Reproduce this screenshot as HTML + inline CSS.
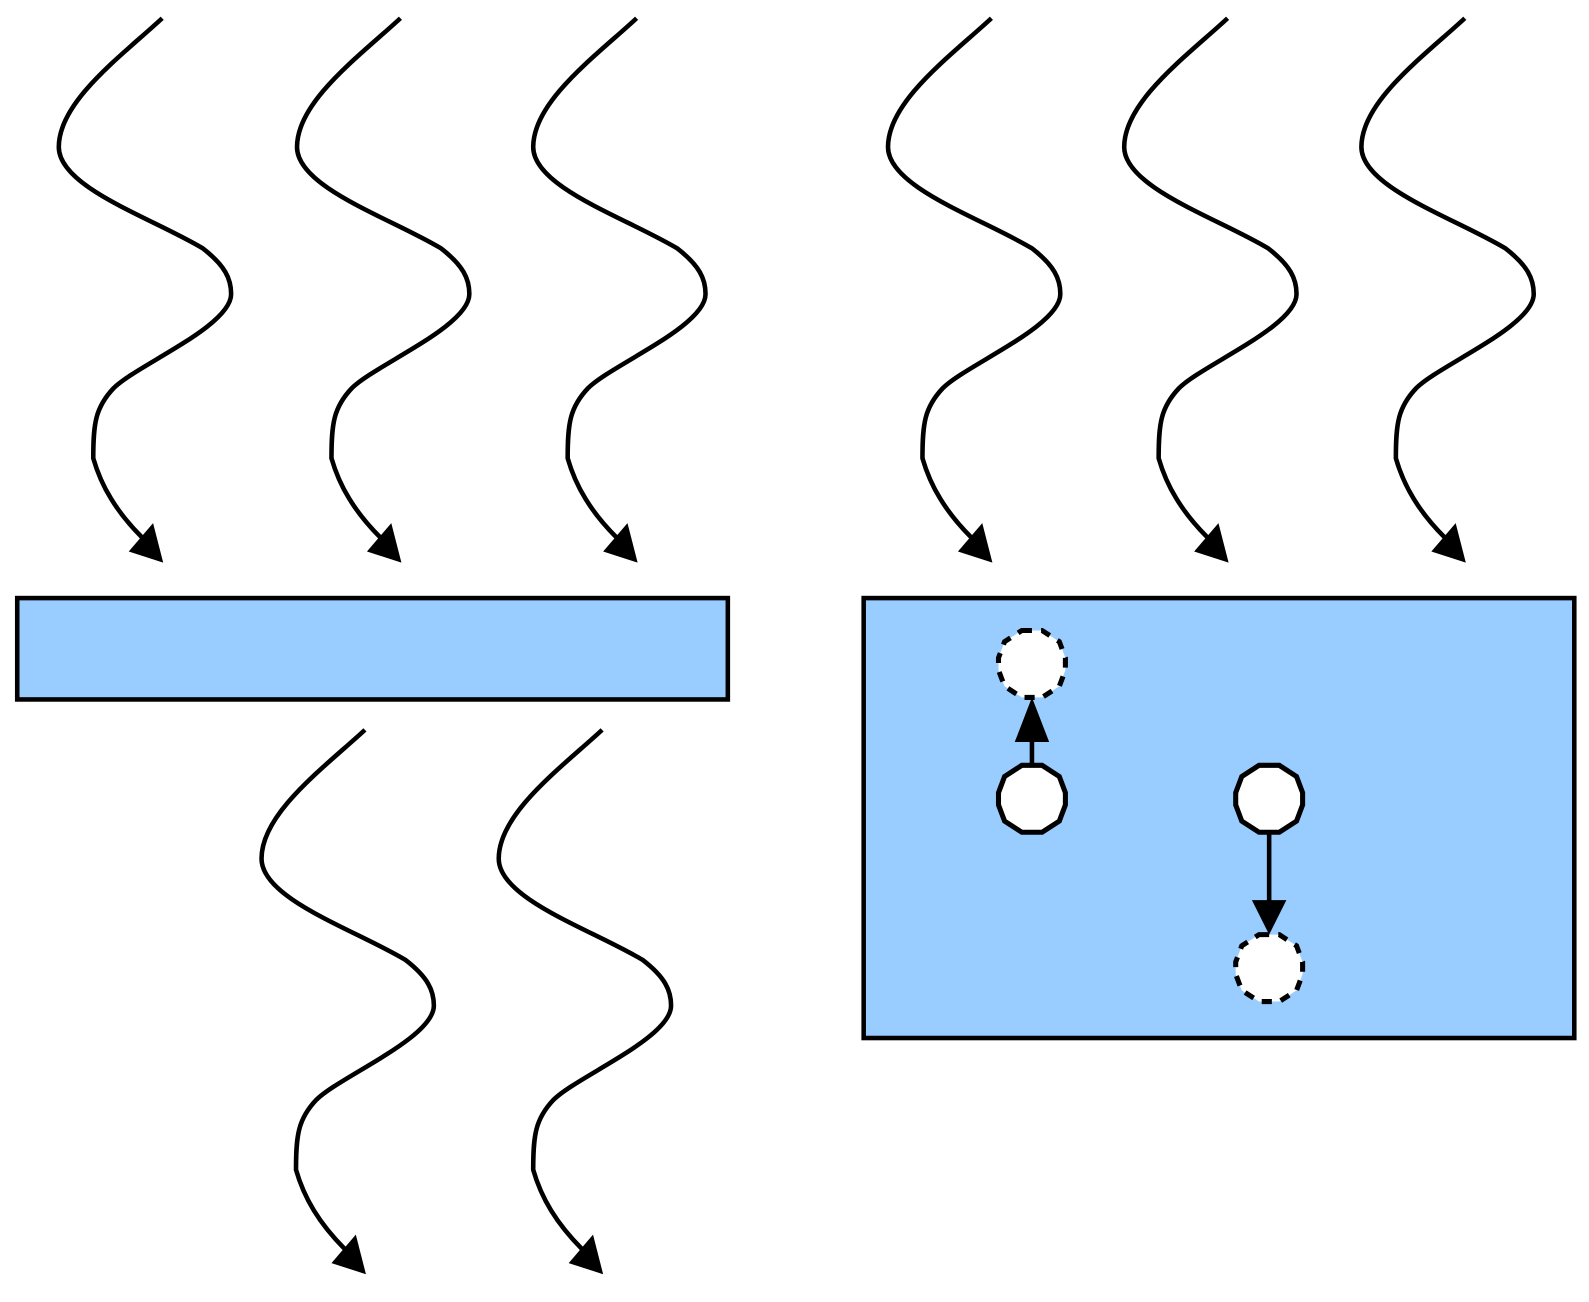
<!DOCTYPE html>
<html><head><style>body{margin:0;background:#fff}svg{display:block}</style></head>
<body>
<svg width="1589" height="1302" viewBox="0 0 1589 1302" xmlns="http://www.w3.org/2000/svg">
<defs>
<g id="w">
<path fill="none" stroke="#000" stroke-width="4.5" stroke-linejoin="round" d="M160,18 C120,55 58,100 58,145 C58,185 150,215 200,245 C222,262 228,275 228,290 C228,322 135,360 112,383 C94,402 92,418 92,452 C100,480 115,505 140,530"/>
<polygon points="161,555 127,544 151,516" fill="#000"/>
</g>
<polygon id="oct" points="-10,-33 10,-33 27,-22 33,-6 33,6 27,22 10,33 -10,33 -27,22 -33,6 -33,-6 -27,-22"/>
</defs>
<g transform="scale(1.0137)">
<use href="#w" x="0" y="0"/>
<use href="#w" x="235" y="0"/>
<use href="#w" x="468" y="0"/>
<use href="#w" x="818" y="0"/>
<use href="#w" x="1051" y="0"/>
<use href="#w" x="1285" y="0"/>
<use href="#w" x="200" y="702"/>
<use href="#w" x="434" y="702"/>
<rect x="17" y="590" width="701" height="100" fill="#99ccff" stroke="#000" stroke-width="4.5"/>
<rect x="852" y="590" width="701" height="434" fill="#99ccff" stroke="#000" stroke-width="4.5"/>
<use href="#oct" x="1018" y="655" fill="#fff" stroke="#000" stroke-width="5" stroke-dasharray="10,9"/>
<use href="#oct" x="1018" y="788" fill="#fff" stroke="#000" stroke-width="5"/>
<use href="#oct" x="1252" y="788" fill="#fff" stroke="#000" stroke-width="5"/>
<use href="#oct" x="1252" y="955" fill="#fff" stroke="#000" stroke-width="5" stroke-dasharray="10,9"/>
<line x1="1018" y1="755" x2="1018" y2="725" stroke="#000" stroke-width="4.5"/>
<polygon points="1018,688 1001,732 1035,732" fill="#000"/>
<line x1="1252" y1="821" x2="1252" y2="895" stroke="#000" stroke-width="4.5"/>
<polygon points="1252,922 1235,888 1269,888" fill="#000"/>
</g>
</svg>
</body></html>
